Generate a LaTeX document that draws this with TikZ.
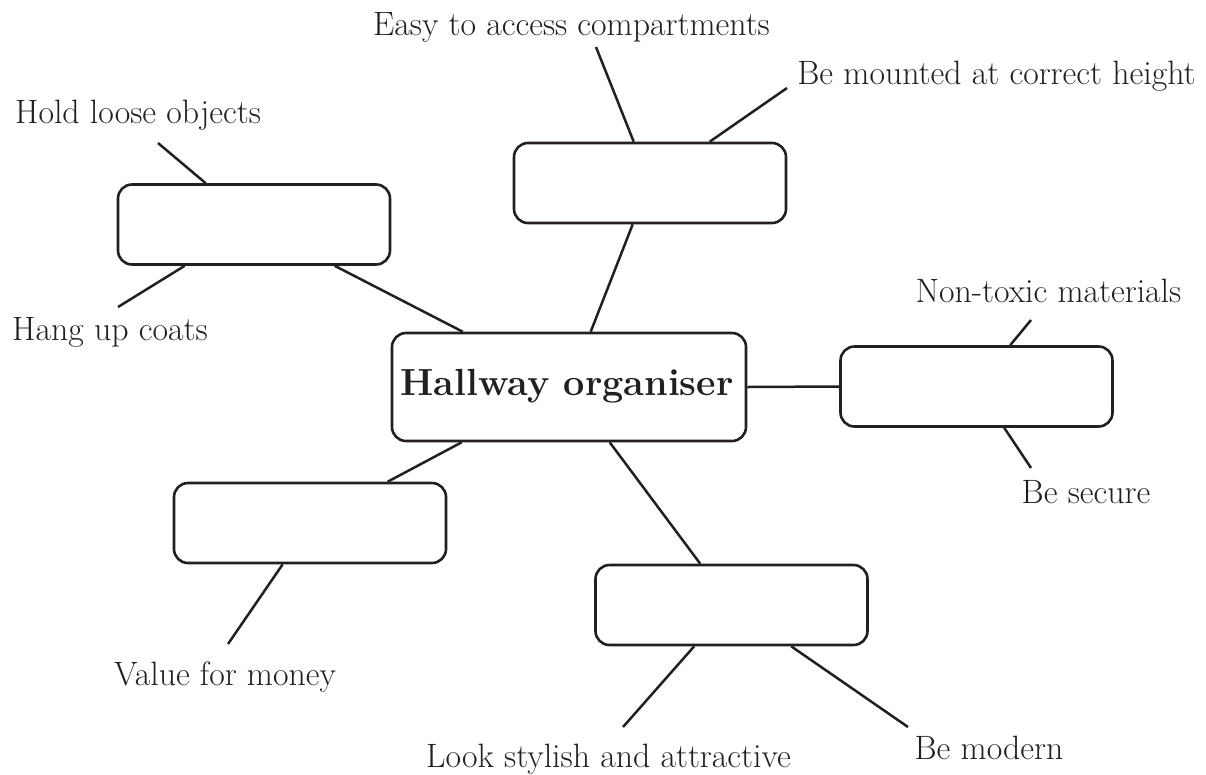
\documentclass[tikz,border=0pt]{standalone}
\usepackage{fontspec}
\definecolor{ink}{HTML}{231F20}
\tikzset{
  box/.style={draw=ink, line width=2.6pt, rounded corners=14pt, minimum width=272pt, minimum height=80pt, inner sep=0pt},
  centre/.style={box, minimum width=354pt, minimum height=108pt},
  lbl/.style={anchor=base, inner sep=0pt, text=ink, font=\fontsize{33.8}{40}\selectfont},
  title/.style={lbl, font=\fontsize{37.8}{44}\selectfont\bfseries},
  link/.style={draw=ink, line width=2.5pt}
}
\begin{document}
\begin{tikzpicture}[x=1pt,y=-1pt]
\useasboundingbox (0,0) rectangle (1206,774);
% boxes
\node[centre] (C) at (569,387) {};
\node[title] (Ct) at (567,395) {Hallway organiser};
\node[box] (T) at (650,183) {};
\node[box] (L) at (254,224.5) {};
\node[box] (R) at (976.5,386.5) {};
\node[box] (BL) at (310,523) {};
\node[box] (B) at (731.5,605) {};
% labels
\node[lbl] (t1) at (571.5,35) {Easy to access compartments};
\node[lbl] (t2) at (996.5,84) {Be mounted at correct height};
\node[lbl] (l1) at (138,123) {Hold loose objects};
\node[lbl] (l2) at (110,340) {Hang up coats};
\node[lbl] (r1) at (1048.5,302) {Non-toxic materials};
\node[lbl] (r2) at (1086,503) {Be secure};
\node[lbl] (bl1) at (225,685) {Value for money};
\node[lbl] (b1) at (608.5,767) {Look stylish and attractive};
\node[lbl] (b2) at (989,759) {Be modern};
% free ends
\coordinate (et1) at (596,47);
\coordinate (et2) at (787,88);
\coordinate (el1) at (158,143);
\coordinate (el2) at (118,307);
\coordinate (er1) at (1031,320);
\coordinate (er2) at (1031,468);
\coordinate (ebl1) at (228,644);
\coordinate (eb1) at (623,727);
\coordinate (eb2) at (908,727);
% connectors between boxes
\draw[link] ([xshift=120pt]T.south west) -- ([xshift=200pt]C.north west);
\draw[link] ([xshift=218pt]L.south west) -- ([xshift=72pt]C.north west);
\draw[link] (C.east) -- (R.west);
\draw[link] ([xshift=71pt]C.south west) -- ([xshift=215pt]BL.north west);
\draw[link] ([xshift=219pt]C.south west) -- ([xshift=106pt]B.north west);
% connectors to labels
\draw[link] (et1) -- ([xshift=121pt]T.north west);
\draw[link] (et2) -- ([xshift=197pt]T.north west);
\draw[link] (el1) -- ([xshift=89pt]L.north west);
\draw[link] (el2) -- ([xshift=68pt]L.south west);
\draw[link] (er1) -- ([xshift=171pt]R.north west);
\draw[link] (er2) -- ([xshift=165pt]R.south west);
\draw[link] (ebl1) -- ([xshift=110pt]BL.south west);
\draw[link] (eb1) -- ([xshift=100pt]B.south west);
\draw[link] (eb2) -- ([xshift=197pt]B.south west);
\end{tikzpicture}
\end{document}
